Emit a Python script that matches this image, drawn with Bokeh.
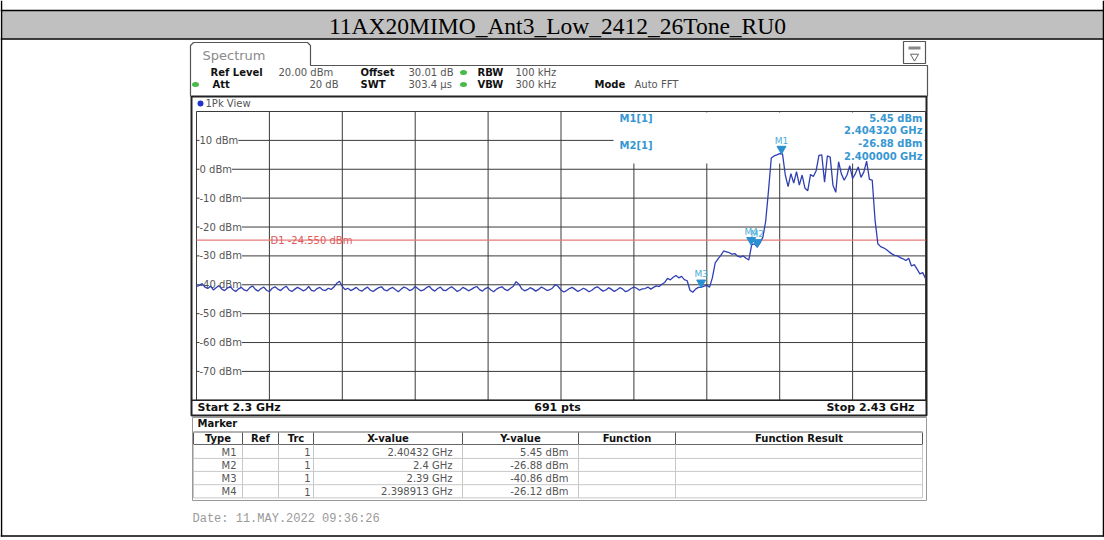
from bokeh.plotting import figure
from bokeh.models import Range1d
from bokeh.core.properties import value
from bokeh.embed import file_html
from bokeh.resources import INLINE

# ---------------- data ----------------
TITLE = "11AX20MIMO_Ant3_Low_2412_26Tone_RU0"
F_START_GHZ = 2.300
F_STOP_GHZ = 2.430
F_STEP_GHZ = 0.0005
N_DIV_X = 10
REF_TOP_DBM = 20
REF_BOTTOM_DBM = -80
Y_TICKS_DBM = [10, 0, -10, -20, -30, -40, -50, -60, -70]
Y_TICK_LABELS = ["10 dBm", "0 dBm", "-10 dBm", "-20 dBm", "-30 dBm",
                 "-40 dBm", "-50 dBm", "-60 dBm", "-70 dBm"]
TRACE_DBM = [
    -40.6, -40.2, -39.6, -40.8, -41.3, -40.5, -41.8, -41.0, -40.3, -41.5,
    -42.0, -41.2, -40.6, -41.7, -42.3, -41.4, -40.9, -41.8, -42.1, -41.0,
    -40.4, -41.6, -42.2, -41.3, -40.8, -41.9, -42.4, -41.2, -40.7, -41.5,
    -42.0, -41.1, -40.5, -41.8, -42.3, -41.6, -40.9, -41.4, -42.1, -41.7,
    -40.6, -41.9, -42.2, -41.3, -40.9, -41.8, -42.0, -41.2, -41.6, -40.8,
    -39.5, -38.8, -40.6, -41.7, -41.2, -42.0, -41.5, -40.9, -41.8, -42.2,
    -41.4, -40.8, -41.9, -42.3, -41.6, -41.0, -40.7, -41.8, -42.1, -41.3,
    -40.9, -41.7, -42.4, -41.5, -40.8, -41.2, -42.0, -41.6, -40.6, -41.4,
    -42.1, -41.8, -41.0, -40.5, -41.6, -42.2, -41.3, -40.8, -41.9, -42.0,
    -41.2, -40.7, -41.5, -42.3, -41.8, -40.9, -41.4, -42.1, -41.6, -41.0,
    -40.6, -41.7, -42.2, -41.3, -40.9, -41.8, -42.4, -41.5, -41.0, -40.7,
    -41.6, -42.0, -41.2, -40.5, -38.9, -39.8, -41.4, -42.1, -41.7, -41.0,
    -41.5, -42.2, -41.6, -40.8, -41.3, -42.0, -41.7, -41.1, -39.9, -40.6,
    -41.8, -42.5, -42.0, -41.3, -40.9, -41.6, -42.3, -41.8, -41.2, -41.7,
    -42.4, -41.9, -41.1, -40.7, -41.5, -42.2, -41.8, -41.0, -41.6, -42.3,
    -41.7, -41.0, -41.5, -42.4, -42.0, -41.3, -40.8, -41.2, -41.9, -41.4,
    -41.3, -40.8, -41.5, -40.9, -40.4, -40.6, -39.8, -39.2, -37.8, -38.3,
    -37.4, -36.8, -37.6, -37.1, -38.2, -38.6, -41.9, -42.6, -41.5, -40.9,
    -40.9, -40.5, -40.2, -40.8, -37.5, -32.4, -31.0, -29.8, -28.3, -28.6,
    -28.9, -29.4, -29.2, -30.1, -30.4, -30.0, -30.8, -31.4, -26.2, -25.8,
    -26.9, -25.5, -23.5, -18.0, -7.5, 3.9, 4.6, 5.0, 5.4, 5.3,
    -2.0, -6.0, -1.5, -4.8, -0.8, -5.5, -2.0, -6.5, -7.5, -1.8,
    -2.5, -0.5, 4.8, 5.0, -4.5, 4.6, 4.2, -5.5, -8.0, 2.6,
    -1.6, -3.8, -2.0, 1.2, -3.2, -1.5, 0.8, -2.8, -1.0, 2.8,
    -3.5, -3.8, -17.5, -25.8, -26.8, -27.2, -27.8, -28.6, -29.3, -29.8,
    -30.0, -30.6, -31.0, -31.6, -30.8, -33.5, -33.0, -34.6, -36.2, -35.8,
    -37.8,
]
FREQ_GHZ = [round(F_START_GHZ + i * F_STEP_GHZ, 4) for i in range(len(TRACE_DBM))]

MARKER_NAMES = ["M1", "M2", "M3", "M4"]
MARKER_FREQ_GHZ = [2.40432, 2.4, 2.39, 2.398913]
MARKER_DBM = [5.45, -26.88, -40.86, -26.12]
MARKER_X_TEXT = ["2.40432 GHz", "2.4 GHz", "2.39 GHz", "2.398913 GHz"]
MARKER_Y_TEXT = ["5.45 dBm", "-26.88 dBm", "-40.86 dBm", "-26.12 dBm"]
MARKER_TRC = ["1", "1", "1", "1"]
D1_DBM = -24.55
SWEEP_POINTS = 691
DATE_TEXT = "Date: 11.MAY.2022  09:36:26"

# ---------------- layout (page pixels) ----------------
W, H = 1104, 540
GX0, GX1 = 196.0, 925.0      # graticule left/right
GY0, GY1 = 111.0, 399.8      # graticule top/bottom

kx = (F_STOP_GHZ - F_START_GHZ) / (GX1 - GX0)
ky = (REF_TOP_DBM - REF_BOTTOM_DBM) / (GY1 - GY0)

p = figure(width=W, height=H, x_range=Range1d(0, W), y_range=Range1d(H, 0),
           output_backend="svg", toolbar_location=None, min_border=0,
           x_axis_location=None, y_axis_location=None, outline_line_color=None,
           background_fill_color="white", border_fill_color="white")
for g in p.grid:
    g.visible = False
p.extra_x_ranges = {"f": Range1d(F_START_GHZ + (0 - GX0) * kx, F_START_GHZ + (W - GX0) * kx)}
p.extra_y_ranges = {"d": Range1d(REF_TOP_DBM - (H - GY0) * ky, REF_TOP_DBM - (0 - GY0) * ky)}
FD = dict(x_range_name="f", y_range_name="d")

SANS = "DejaVu Sans"


def box(l, r, t, b, fill=None, line="#000", lw=1.0, **kw):
    p.quad(left=[l], right=[r], top=[t], bottom=[b], fill_color=fill,
           line_color=line, line_width=lw, **kw)


def seg(x0, y0, x1, y1, color="#000", lw=1.0, **kw):
    p.segment(x0=[x0], y0=[y0], x1=[x1], y1=[y1], line_color=color, line_width=lw, **kw)


def txt(x, y, s, size=10, color="#444", bold=False, align="left", font=SANS,
        baseline="middle", **kw):
    p.text(x=[x], y=[y], text=[s], text_font=value(font), text_font_size=f"{size}px",
           text_color=color, text_font_style="bold" if bold else "normal",
           text_align=align, text_baseline=baseline, **kw)


# ---- document table ----
box(1, 1103, 10, 38, fill="#c0c0c0", line=None)
seg(0, 10, W, 10, "#000", 1.5)
seg(0, 38.5, W, 38.5, "#000", 1.5)
seg(1, 0, 1, 536, "#000", 1.5)
seg(1103, 0, 1103, 536, "#000", 1.5)
seg(0, 535.5, W, 535.5, "#000", 1.5)
txt(557, 25, TITLE, size=23.5, color="#000", font="Liberation Serif", align="center")

# ---- Spectrum tab & panel ----
p.line(x=[190, 190, 193, 307, 310, 310, 927, 927], y=[96, 45, 42, 42, 45, 65, 65, 96],
       line_color="#555", line_width=1.2)
txt(202, 55, "Spectrum", size=13, color="#8a8a8a")
box(903, 925, 41, 63, fill="white", line="#555", lw=1.2)
box(908, 920, 46, 49, fill="#888", line=None)
p.scatter(x=[914], y=[56], marker="inverted_triangle", size=8, fill_color=None,
          line_color="#666", line_width=1)

# info rows
txt(210, 72, "Ref Level", size=10, color="#111", bold=True)
txt(278, 72, "20.00 dBm", size=10, color="#555")
txt(360, 72, "Offset", size=10, color="#111", bold=True)
txt(408, 72, "30.01 dB", size=10, color="#555")
txt(477, 72, "RBW", size=10, color="#111", bold=True)
txt(515, 72, "100 kHz", size=10, color="#555")
txt(212, 84, "Att", size=10, color="#111", bold=True)
txt(338, 84, "20 dB", size=10, color="#555", align="right")
txt(360, 84, "SWT", size=10, color="#111", bold=True)
txt(408, 84, "303.4 \u00b5s", size=10, color="#555")
txt(477, 84, "VBW", size=10, color="#111", bold=True)
txt(515, 84, "300 kHz", size=10, color="#555")
txt(594, 84, "Mode", size=10, color="#111", bold=True)
txt(634, 84, "Auto FFT", size=10, color="#555")
p.ellipse(x=[463, 195, 463], y=[72, 84, 84], width=7, height=5, fill_color="#49b949",
          line_color=None)

# ---- 1Pk View window ----
box(191, 926, 96, 415, fill="white", line="#222", lw=2)
p.ellipse(x=[200], y=[103], width=6, height=6, fill_color="#2233cc", line_color=None)
txt(205, 103, "1Pk View", size=10, color="#555")

# graticule
grid_f = [F_START_GHZ + k * (F_STOP_GHZ - F_START_GHZ) / N_DIV_X for k in range(N_DIV_X + 1)]
grid_d = list(range(REF_TOP_DBM, REF_BOTTOM_DBM - 1, -10))
p.segment(x0=grid_f, x1=grid_f, y0=[REF_TOP_DBM] * len(grid_f), y1=[REF_BOTTOM_DBM] * len(grid_f),
          line_color="#3a3a3a", line_width=1, **FD)
p.segment(x0=[F_START_GHZ] * len(grid_d), x1=[F_STOP_GHZ] * len(grid_d), y0=grid_d, y1=grid_d,
          line_color="#3a3a3a", line_width=1, **FD)

# y labels
p.text(x=[199] * len(Y_TICKS_DBM), y=Y_TICKS_DBM, text=Y_TICK_LABELS, y_range_name="d",
       text_font=value(SANS), text_font_size="10px", text_color="#555",
       text_align="left", text_baseline="middle", background_fill_color="white")

# marker info mask
box(613, 924, 112, 163, fill="white", line=None)

# display line D1
p.segment(x0=[F_START_GHZ], x1=[F_STOP_GHZ], y0=[D1_DBM], y1=[D1_DBM],
          line_color="#e77b7b", line_width=1.2, **FD)
p.text(x=[270], y=[D1_DBM], text=[f"D1  {D1_DBM:.3f} dBm"], y_range_name="d",
       text_font=value(SANS), text_font_size="10px", text_color="#e05a5a",
       text_align="left", text_baseline="middle")

# trace
p.line(x=FREQ_GHZ, y=TRACE_DBM, line_color="#2f3fb2", line_width=1.3, **FD)

# markers
p.scatter(x=MARKER_FREQ_GHZ, y=[d + 1.6 for d in MARKER_DBM], marker="inverted_triangle",
          size=9, fill_color="#2a90d2", line_color="#2a90d2", **FD)
p.text(x=MARKER_FREQ_GHZ, y=MARKER_DBM, text=MARKER_NAMES, y_offset=-8,
       text_font=value(SANS), text_font_size="9px", text_color="#4aaed6",
       text_align="center", text_baseline="bottom", **FD)

# marker info text
MC = "#3797d3"
txt(619, 118, "M1[1]", size=10, color=MC, bold=True)
txt(922, 118, f"{MARKER_DBM[0]:.2f} dBm", size=10, color=MC, bold=True, align="right")
txt(922, 130, f"{MARKER_FREQ_GHZ[0]:.6f} GHz", size=10, color=MC, bold=True, align="right")
txt(619, 145, "M2[1]", size=10, color=MC, bold=True)
txt(922, 143, f"{MARKER_DBM[1]:.2f} dBm", size=10, color=MC, bold=True, align="right")
txt(922, 156, f"{MARKER_FREQ_GHZ[1]:.6f} GHz", size=10, color=MC, bold=True, align="right")

# start / stop row
seg(191, GY1, 926, GY1, "#222", 1.5)
txt(197, 407, f"Start {F_START_GHZ:g} GHz", size=11, color="#111", bold=True)
txt(557, 407, f"{SWEEP_POINTS} pts", size=11, color="#111", bold=True, align="center")
txt(914, 407, f"Stop {F_STOP_GHZ:g} GHz", size=11, color="#111", bold=True, align="right")

# ---- Marker window ----
box(192, 926, 417, 500, fill=None, line="#999", lw=1)
txt(197, 423, "Marker", size=10, color="#111", bold=True)
COLS = [193, 242, 278, 313, 462, 578, 675, 922]
HEAD = ["Type", "Ref", "Trc", "X-value", "Y-value", "Function", "Function Result"]
seg(193, 431.5, 922, 431.5, "#666", 1)
seg(193, 444, 922, 444, "#666", 1)
for i, h in enumerate(HEAD):
    txt((COLS[i] + COLS[i + 1]) / 2, 438, h, size=10, color="#111", bold=True, align="center")
for c in COLS:
    seg(c, 432, c, 444, "#555", 1)
    seg(c, 444, c, 497.5, "#c8c8c8", 1)
ROW_Y = [451.5, 464.5, 477.8, 491]
for j, ry in enumerate(ROW_Y):
    seg(193, ry + 6.4, 922, ry + 6.4, "#c8c8c8", 1)
    txt(236, ry, MARKER_NAMES[j], size=10, color="#555", align="right")
    txt(310, ry, MARKER_TRC[j], size=10, color="#555", align="right")
    txt(452, ry, MARKER_X_TEXT[j], size=10, color="#555", align="right")
    txt(568, ry, MARKER_Y_TEXT[j], size=10, color="#555", align="right")

# date
txt(192, 518, DATE_TEXT, size=12, color="#9a9a9a", font="Liberation Mono")

open("out.html", "w").write(file_html(p, INLINE))
